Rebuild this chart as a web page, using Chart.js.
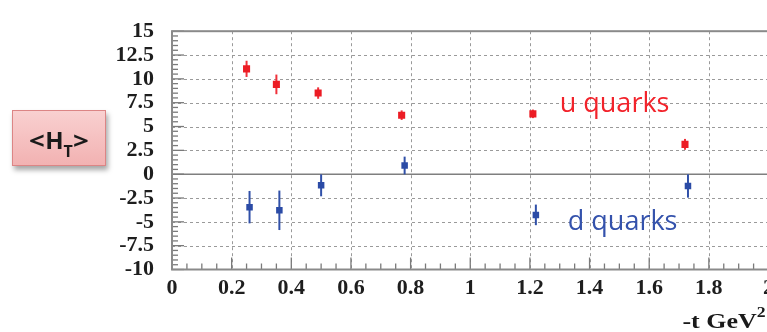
<!DOCTYPE html>
<html>
<head>
<meta charset="utf-8">
<script src="https://cdn.jsdelivr.net/npm/chart.js@4"></script>
<style>
  html, body { margin: 0; padding: 0; background: #fff; overflow: hidden; }
  #wrap { position: relative; width: 767px; height: 332px; overflow: hidden; }
  #c { position: absolute; left: 0; top: 0; }
  #ht {
    position: absolute; left: 12px; top: 110px; width: 94px; height: 56px;
    box-sizing: border-box; border: 1.5px solid #dc8585;
    background: linear-gradient(#f9d0d0, #f2b2b2);
    box-shadow: 2px 4px 5px rgba(0,0,0,0.35);
    font: bold 24px/1 "Open Sans", Lato, sans-serif; color: #1a1a1a;
    display: flex; align-items: center; justify-content: center;
  }
  #ht .in { display: inline-block; position: relative; top: 2px; white-space: nowrap; }
  #ht .sb { display: inline-block; font-size: 16px; position: relative; top: 8px; }
  #ht .br { display: inline-block; transform: scaleX(1.15); margin: 0 1px; }
</style>
</head>
<body>
<div id="wrap">
  <canvas id="c" width="780" height="332"></canvas>
  <div id="ht"><span class="in"><span class="br">&lt;</span>H<span class="sb">T</span><span class="br">&gt;</span></span></div>
</div>
<script>
// -t values (GeV^2) and <H_T> moments with errors
const tU   = [0.25, 0.35, 0.49, 0.77, 1.21, 1.72];
const hU   = [11.05, 9.42, 8.51, 6.19, 6.33, 3.13];
const errU = [0.85, 1.03, 0.60, 0.50, 0.45, 0.57];

const tD   = [0.26, 0.36, 0.50, 0.78, 1.22, 1.73];
const hD   = [-3.46, -3.79, -1.17, 0.91, -4.27, -1.24];
const errD = [1.70, 2.07, 1.15, 0.93, 1.08, 1.22];

const seriesNames = ['u quarks', 'd quarks'];

const X_MIN = 0, X_MAX = 2, X_STEP = 0.2, X_MINOR = 0.05;
const Y_MIN = -10, Y_MAX = 15, Y_STEP = 2.5, Y_MINOR = 0.5;

const tickFont = { family: 'Liberation Serif', weight: 'bold', size: 22 };
const fmt = v => String(Number(v.toFixed(2)));

// grid, frame, minor ticks and error bars
const framePlugin = {
  id: 'frame',
  beforeDatasetsDraw(chart) {
    const { ctx, chartArea: ca } = chart;
    const xs = chart.scales.x, ys = chart.scales.y;
    ctx.save();
    // dashed grid
    ctx.strokeStyle = '#9a9a9a';
    ctx.lineWidth = 1;
    ctx.setLineDash([3, 3]);
    xs.ticks.forEach(t => {
      if (t.value <= X_MIN || t.value >= X_MAX) return;
      const x = Math.round(xs.getPixelForValue(t.value)) + 0.5;
      ctx.beginPath(); ctx.moveTo(x, ca.top); ctx.lineTo(x, ca.bottom); ctx.stroke();
    });
    ys.ticks.forEach(t => {
      if (t.value <= Y_MIN || t.value >= Y_MAX || t.value === 0) return;
      const y = Math.round(ys.getPixelForValue(t.value)) + 0.5;
      ctx.beginPath(); ctx.moveTo(ca.left, y); ctx.lineTo(ca.right, y); ctx.stroke();
    });
    ctx.setLineDash([]);
    // zero line
    ctx.strokeStyle = '#7f7f7f';
    ctx.lineWidth = 1.5;
    const y0 = ys.getPixelForValue(0);
    ctx.beginPath(); ctx.moveTo(ca.left, y0); ctx.lineTo(ca.right, y0); ctx.stroke();
    // minor ticks
    ctx.strokeStyle = '#7a7a7a';
    ctx.lineWidth = 1.3;
    const nx = Math.round((X_MAX - X_MIN) / X_MINOR);
    for (let i = 0; i <= nx; i++) {
      const x = xs.getPixelForValue(X_MIN + i * X_MINOR);
      const len = i % 4 === 0 ? 12 : 6;
      ctx.beginPath(); ctx.moveTo(x, ca.bottom); ctx.lineTo(x, ca.bottom - len); ctx.stroke();
    }
    const ny = Math.round((Y_MAX - Y_MIN) / Y_MINOR);
    for (let i = 0; i <= ny; i++) {
      const y = ys.getPixelForValue(Y_MIN + i * Y_MINOR);
      const len = i % 5 === 0 ? 12 : 6;
      ctx.beginPath(); ctx.moveTo(ca.left, y); ctx.lineTo(ca.left + len, y); ctx.stroke();
    }
    // frame
    ctx.strokeStyle = '#8a8a8a';
    ctx.lineWidth = 2;
    ctx.strokeRect(ca.left, ca.top, ca.right - ca.left, ca.bottom - ca.top);
    // error bars
    chart.data.datasets.forEach(ds => {
      ctx.strokeStyle = ds.errColor;
      ctx.lineWidth = ds.errWidth;
      ds.data.forEach((p, i) => {
        const e = ds.errors[i];
        const x = xs.getPixelForValue(p.x);
        ctx.beginPath();
        ctx.moveTo(x, ys.getPixelForValue(p.y - e));
        ctx.lineTo(x, ys.getPixelForValue(p.y + e));
        ctx.stroke();
      });
    });
    ctx.restore();
  },
  afterDraw(chart) {
    const { ctx, chartArea: ca } = chart;
    const xs = chart.scales.x, ys = chart.scales.y;
    ctx.save();
    // series labels inside the plot
    ctx.textBaseline = 'alphabetic';
    ctx.textAlign = 'left';
    ctx.font = '27px "Open Sans", Lato, sans-serif';
    ctx.fillStyle = '#f2232b';
    ctx.fillText(seriesNames[0], xs.getPixelForValue(1.30), ys.getPixelForValue(6.49));
    ctx.fillStyle = '#3452ac';
    ctx.fillText(seriesNames[1], xs.getPixelForValue(1.327), ys.getPixelForValue(-5.87));
    ctx.restore();

    // axis title "-t GeV^2", slightly widened serif
    ctx.save();
    ctx.fillStyle = '#1a1a1a';
    const sx = 1.18;
    const main = '-t GeV';
    ctx.font = 'bold 15px "Liberation Serif"';
    const supW = ctx.measureText('2').width;
    ctx.font = 'bold 22px "Liberation Serif"';
    const mainW = ctx.measureText(main).width;
    const xEnd = ca.right - 3;
    const base = ca.bottom + 58.5;
    ctx.translate(xEnd, base);
    ctx.scale(sx, 1);
    ctx.fillText(main, -(supW + mainW), 0);
    ctx.font = 'bold 15px "Liberation Serif"';
    ctx.fillText('2', -supW, -11);
    ctx.restore();
  }
};

new Chart(document.getElementById('c'), {
  type: 'scatter',
  data: {
    datasets: [
      {
        label: seriesNames[0],
        data: tU.map((t, i) => ({ x: t, y: hU[i] })),
        errors: errU,
        errColor: '#f0303a',
        errWidth: 2,
        pointStyle: 'rect',
        pointRadius: 5,
        backgroundColor: '#ec1c24',
        borderColor: '#ec1c24',
        borderWidth: 0
      },
      {
        label: seriesNames[1],
        data: tD.map((t, i) => ({ x: t, y: hD[i] })),
        errors: errD,
        errColor: '#3050a8',
        errWidth: 2,
        pointStyle: 'rect',
        pointRadius: 4.6,
        backgroundColor: '#2b4ba6',
        borderColor: '#2b4ba6',
        borderWidth: 0
      }
    ]
  },
  options: {
    responsive: false,
    animation: false,
    devicePixelRatio: 1,
    layout: { padding: { top: 15, right: 11, left: 0, bottom: 0 } },
    plugins: { legend: { display: false }, tooltip: { enabled: false } },
    scales: {
      x: {
        type: 'linear', min: X_MIN, max: X_MAX,
        grid: { display: false, drawTicks: false },
        border: { display: false },
        ticks: { stepSize: X_STEP, font: tickFont, color: '#1e1e1e', padding: 6,
                 maxRotation: 0, autoSkip: false, callback: fmt },
        afterFit: s => { s.height = 62.5; }
      },
      y: {
        type: 'linear', min: Y_MIN, max: Y_MAX,
        grid: { display: false, drawTicks: false },
        border: { display: false },
        ticks: { stepSize: Y_STEP, font: tickFont, color: '#1e1e1e', padding: 18,
                 autoSkip: false, callback: fmt },
        afterFit: s => { s.width = 172; }
      }
    }
  },
  plugins: [framePlugin]
});
</script>
</body>
</html>
